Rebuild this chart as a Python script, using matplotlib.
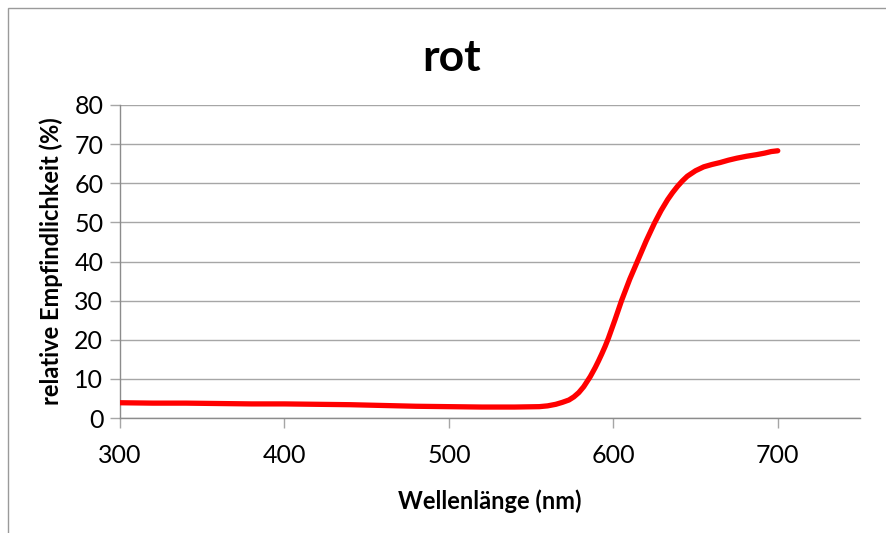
import matplotlib
matplotlib.use("Agg")
import matplotlib.pyplot as plt
from matplotlib.patches import Rectangle

# spectral sensitivity of the red channel
wavelength_nm = [300, 320, 340, 360, 380, 400, 420, 440, 460, 480, 500, 520,
                 540, 555, 560, 565, 569, 573, 576, 579, 582, 586, 589, 591,
                 593, 595, 597, 601, 605, 610, 615, 620, 625, 629, 633, 636,
                 639, 642, 645, 650, 655, 660, 665, 670, 675, 681, 687, 692,
                 696, 700]
sensitivity_pct = [3.9, 3.8, 3.8, 3.7, 3.6, 3.6, 3.5, 3.4, 3.2, 3.0, 2.9, 2.8,
                   2.8, 2.9, 3.1, 3.5, 4.0, 4.6, 5.4, 6.5, 8.0, 10.6, 12.9, 14.6,
                   16.4, 18.3, 20.4, 25.1, 30.0, 35.5, 40.4, 45.3, 49.8, 53.0, 55.8, 57.6,
                   59.2, 60.6, 61.8, 63.2, 64.2, 64.8, 65.3, 65.9, 66.4, 66.9, 67.3, 67.7,
                   68.1, 68.3]

title = "rot"
x_label = "Wellenlänge (nm)"
y_label = "relative Empfindlichkeit (%)"
x_ticks = [300, 400, 500, 600, 700]
y_ticks = [0, 10, 20, 30, 40, 50, 60, 70, 80]

plt.rcParams["font.family"] = ["Lato", "DejaVu Sans"]

fig = plt.figure(figsize=(8.87, 5.33), dpi=100)
ax = fig.add_axes([120 / 887, 1 - 418 / 533, 740 / 887, 313 / 533])

# chart frame
fig.patches.append(Rectangle((8 / 887, -0.1), 1.2, 1 - 8 / 533 + 0.1,
                             transform=fig.transFigure, fill=False,
                             edgecolor="#9a9a9a", linewidth=1.0))

ax.plot(wavelength_nm, sensitivity_pct, color="#ff0000", linewidth=3.8,
        solid_capstyle="round", solid_joinstyle="round", zorder=3)

ax.set_xlim(300, 750)
ax.set_ylim(0, 80)
ax.set_xticks(x_ticks)
ax.set_yticks(y_ticks)
ax.grid(axis="y", color="#a6a6a6", linewidth=1.0)
ax.set_axisbelow(True)

for side in ("top", "right"):
    ax.spines[side].set_visible(False)
for side in ("left", "bottom"):
    ax.spines[side].set_color("#8c8c8c")
    ax.spines[side].set_linewidth(1.0)

ax.tick_params(axis="both", direction="out", length=7, width=1.0,
               color="#a6a6a6", labelsize=18, labelcolor="#000000")
ax.tick_params(axis="x", pad=12)
ax.tick_params(axis="y", pad=5)

ax.set_xlabel(x_label, fontsize=17, fontweight="bold", labelpad=16)
ax.set_ylabel(y_label, fontsize=17, fontweight="bold", labelpad=8)
fig.text(452 / 887, 1 - 58 / 533, title, fontsize=32, fontweight="bold",
         ha="center", va="center")

fig.savefig("out.png", dpi=100)
